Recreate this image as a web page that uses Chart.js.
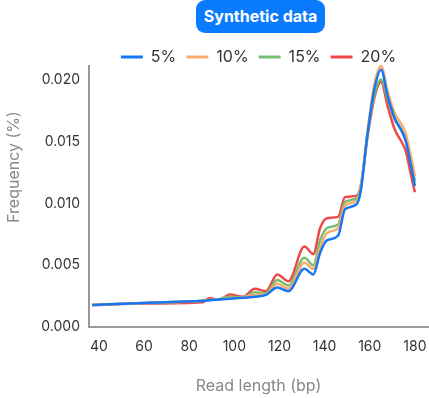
<!DOCTYPE html>
<html>
<head>
<meta charset="utf-8">
<script src="https://cdn.jsdelivr.net/npm/chart.js@4"></script>
<style>
  html, body { margin: 0; padding: 0; background: #fff; }
  #wrap { position: relative; width: 429px; height: 398px; }
  #badge {
    position: absolute; left: 196px; top: 0; width: 129px; height: 33px;
    background: #0a7bff; color: #fff; border-radius: 9px;
    font: 700 16px Inter, sans-serif; line-height: 33px; text-align: center;
  }
</style>
</head>
<body>
<div id="wrap">
  <canvas id="chart" width="429" height="398"></canvas>
  <div id="badge">Synthetic data</div>
</div>
<script>
// ------------------ Data ------------------
const readLength = [37, 60, 86, 89, 93, 98, 104, 109, 114, 119, 124, 131, 135, 138, 141, 146, 149, 154, 156, 159, 162, 165, 168, 171, 174, 176, 178, 180];

const freq5  = [0.00177, 0.00195, 0.00212, 0.00217, 0.00222, 0.00228, 0.00236, 0.00245, 0.0026, 0.0032, 0.0029, 0.0047, 0.00425, 0.0060, 0.0070, 0.0074, 0.0095, 0.0099, 0.0110, 0.0156, 0.0192, 0.0208, 0.0186, 0.0169, 0.0159, 0.0150, 0.0133, 0.0114];
const freq10 = [0.00177, 0.00195, 0.00212, 0.00218, 0.00224, 0.00233, 0.0024, 0.0026, 0.00265, 0.0035, 0.0031, 0.0052, 0.0047, 0.0064, 0.0076, 0.0080, 0.0098, 0.0102, 0.0112, 0.0158, 0.0196, 0.0211, 0.0190, 0.0173, 0.0164, 0.0156, 0.0140, 0.0122];
const freq15 = [0.00177, 0.00195, 0.00212, 0.0022, 0.00224, 0.00245, 0.0024, 0.0028, 0.00272, 0.0038, 0.00335, 0.0056, 0.0050, 0.0070, 0.0080, 0.0083, 0.0101, 0.0104, 0.0113, 0.0156, 0.0187, 0.0200, 0.0184, 0.0168, 0.0159, 0.0151, 0.0135, 0.0118];
const freq20 = [0.00177, 0.0019, 0.0020, 0.00235, 0.0022, 0.00262, 0.00245, 0.0031, 0.0029, 0.00425, 0.0037, 0.0065, 0.0059, 0.0080, 0.0088, 0.0089, 0.0105, 0.0106, 0.0114, 0.0154, 0.0185, 0.0198, 0.0178, 0.0160, 0.0150, 0.0142, 0.0125, 0.0109];

const seriesNames  = ["5%", "10%", "15%", "20%"];
const seriesColors = ["#1677f5", "#f9ad6a", "#76bd74", "#f04848"];
const xTicks = [40, 60, 80, 100, 120, 140, 160, 180];
const yTicks = [0, 0.005, 0.010, 0.015, 0.020];

// ------------------ Chart ------------------
const allSeries = [freq5, freq10, freq15, freq20];
const datasets = allSeries.map((vals, i) => ({
  label: seriesNames[i],
  data: vals.map((v, j) => ({ x: readLength[j], y: v })),
  borderColor: seriesColors[i],
  backgroundColor: seriesColors[i],
  borderWidth: 2.5,
  pointRadius: 0,
  cubicInterpolationMode: "monotone",
  fill: false,
  clip: false
}));

// y axis title drawn by hand so it sits where the original has it
const yTitlePlugin = {
  id: "yTitle",
  afterDraw(chart) {
    const ctx = chart.ctx;
    ctx.save();
    ctx.translate(14, 167);
    ctx.rotate(-Math.PI / 2);
    ctx.font = "16px Inter, sans-serif";
    ctx.fillStyle = "#888888";
    ctx.textAlign = "center";
    ctx.textBaseline = "middle";
    ctx.fillText("Frequency (%)", 0, 0);
    ctx.restore();
  }
};

// legend block is shorter in the original than Chart.js makes it
const legendHeightPlugin = {
  id: "legendHeight",
  afterInit(chart) {
    const lg = chart.legend;
    if (!lg) return;
    const fit = lg.fit.bind(lg);
    lg.fit = () => { fit(); lg.height = 27; };
  }
};

new Chart(document.getElementById("chart").getContext("2d"), {
  type: "line",
  data: { datasets },
  options: {
    responsive: false,
    animation: false,
    layout: { padding: { top: 39, right: 1, left: 0, bottom: 0 } },
    plugins: {
      legend: {
        display: true,
        position: "top",
        fullSize: false,
        labels: {
          font: { family: "Inter", size: 16 },
          color: "#333333",
          boxWidth: 22,
          boxHeight: 3,
          padding: 10,
          generateLabels: chart =>
            Chart.defaults.plugins.legend.labels.generateLabels(chart).map(l => ({ ...l, lineWidth: 0 }))
        }
      },
      tooltip: { enabled: false }
    },
    scales: {
      x: {
        type: "linear",
        min: 35.6,
        max: 185.8,
        afterBuildTicks: axis => { axis.ticks = xTicks.map(v => ({ value: v })); },
        afterFit: axis => { axis.height = 71; axis.paddingLeft = 0; axis.paddingRight = 0; },
        grid: { display: false, drawTicks: false },
        border: { display: true, color: "#999999", width: 2 },
        ticks: {
          font: { family: "Inter", size: 14 },
          color: "#333333",
          padding: 11,
          maxRotation: 0
        },
        title: {
          display: true,
          text: "Read length (bp)",
          font: { family: "Inter", size: 16 },
          color: "#888888",
          padding: { top: 4, bottom: 2 }
        }
      },
      y: {
        min: 0,
        max: 0.0211,
        afterBuildTicks: axis => { axis.ticks = yTicks.map(v => ({ value: v })); },
        afterFit: axis => { axis.width = 89; },
        grid: { display: false, drawTicks: false },
        border: { display: true, color: "#999999", width: 2 },
        ticks: {
          font: { family: "Inter", size: 14 },
          color: "#333333",
          padding: 9,
          callback: v => v.toFixed(3)
        },
        title: { display: false }
      }
    }
  },
  plugins: [yTitlePlugin, legendHeightPlugin]
});
</script>
</body>
</html>
